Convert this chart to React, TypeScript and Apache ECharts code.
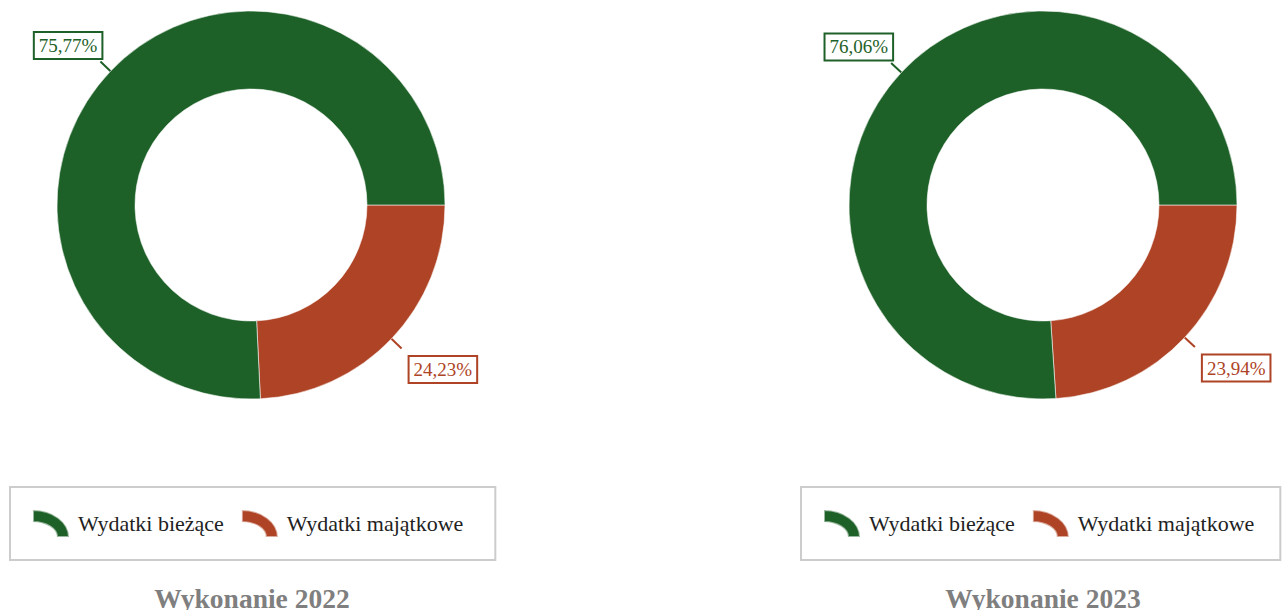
import React, { useEffect, useRef } from "react";
import * as echarts from "echarts";

const categories = ["Wydatki bieżące", "Wydatki majątkowe"];
const titles = ["Wykonanie 2022", "Wykonanie 2023"];
const values2022 = [75.77, 24.23];
const values2023 = [76.06, 23.94];
const colors = ["#1e6128", "#ae4325"];

const FONT = "'Liberation Serif', 'Times New Roman', serif";
const ICON = "path://M0,0 A36,27 0 0 1 36,27 L24,27 A24,15 0 0 0 0,12 Z";

function fmt(v: number) {
  return v.toFixed(2).replace(".", ",") + "%";
}

function makeSeries(vals: number[], cx: number) {
  // red slice first so it starts at 3 o'clock
  const order = [1, 0];
  return {
    type: "pie",
    center: [cx, 205],
    radius: [116, 194],
    startAngle: 0,
    clockwise: true,
    avoidLabelOverlap: false,
    itemStyle: { borderColor: "rgba(255,255,255,0.55)", borderWidth: 1 },
    label: {
      show: true,
      position: "outside",
      formatter: (p: any) => fmt(p.value),
      fontFamily: FONT,
      fontSize: 19,
      backgroundColor: "#fff",
      borderWidth: 2,
      padding: [4, 4, 2, 4],
    },
    labelLine: { show: true, length: 14, length2: 0, lineStyle: { width: 2 } },
    labelLayout: (p: any) =>
      p.dataIndex === 1 ? { dx: 6, dy: -16 } : { dx: 3, dy: 21 },
    emphasis: { disabled: true },
    data: order.map((i) => ({
      name: categories[i],
      value: vals[i],
      itemStyle: { color: colors[i] },
      label: { color: colors[i], borderColor: colors[i] },
      labelLine: { lineStyle: { color: colors[i] } },
    })),
  };
}

function makeLegend(left: number, padRight: number) {
  return {
    data: categories,
    left,
    top: 487,
    width: 470,
    orient: "horizontal",
    icon: ICON,
    itemWidth: 36,
    itemHeight: 27,
    itemGap: 17,
    padding: [22, padRight, 22, 22],
    borderColor: "#cccccc",
    borderWidth: 2,
    textStyle: { fontFamily: FONT, fontSize: 22, color: "#222", padding: [0, 0, 0, 4] },
    selectedMode: false,
  };
}

export default function App() {
  const ref = useRef<HTMLDivElement>(null);
  useEffect(() => {
    if (!ref.current) return;
    const chart = echarts.init(ref.current, undefined, { renderer: "svg" });
    const titleStyle = { fontFamily: FONT, fontSize: 27.5, fontWeight: "bold", color: "#7f7f7f" };
    chart.setOption({
      animation: false,
      color: colors,
      title: [
        { text: titles[0], left: 247, top: 579, textAlign: "center", textStyle: titleStyle },
        { text: titles[1], left: 1038, top: 579, textAlign: "center", textStyle: titleStyle },
      ],
      legend: [makeLegend(10, 32), makeLegend(801, 26)],
      series: [makeSeries(values2022, 251), makeSeries(values2023, 1043)],
    });
    return () => chart.dispose();
  }, []);
  return (
    <div
      ref={ref}
      style={{ position: "fixed", left: 0, top: 0, width: 1282, height: 610, background: "#fff" }}
    />
  );
}
